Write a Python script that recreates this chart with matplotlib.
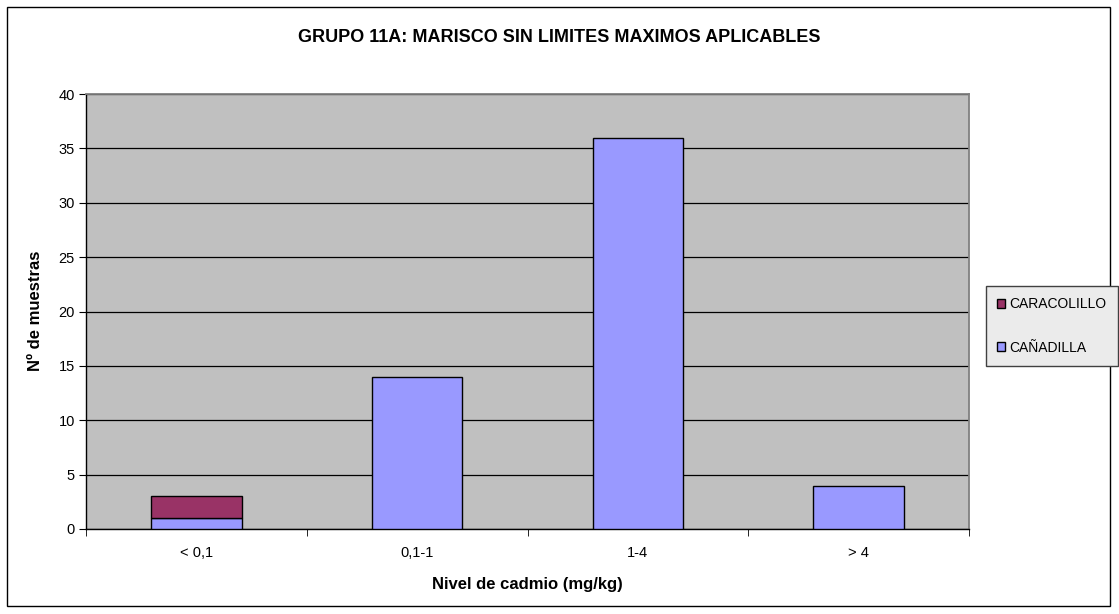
import matplotlib
matplotlib.use("Agg")
import matplotlib.pyplot as plt
from matplotlib.patches import Rectangle
import numpy as np

categories = ["< 0,1", "0,1-1", "1-4", "> 4"]
canadilla = [1, 14, 36, 4]
caracolillo = [2, 0, 0, 0]
yticks = [0, 5, 10, 15, 20, 25, 30, 35, 40]

plt.rcParams['font.family'] = ['Liberation Sans', 'DejaVu Sans']

fig = plt.figure(figsize=(11.19, 6.14), dpi=100)
fig.patches.append(Rectangle((7/1119, 1-606/614), 1103/1119, 599/614, transform=fig.transFigure,
                             fill=False, edgecolor='black', linewidth=1.0))
ax = fig.add_axes([86/1119, 1-529/614, 883/1119, 435/614])
ax.set_facecolor('#C0C0C0')

x = np.arange(len(categories))
w = 0.41
ax.bar(x, canadilla, w, color='#9999FF', edgecolor='black', linewidth=1.0, label='CAÑADILLA', zorder=3)
car_x = [xi for xi, v in zip(x, caracolillo) if v > 0]
car_v = [v for v in caracolillo if v > 0]
car_b = [c for c, v in zip(canadilla, caracolillo) if v > 0]
ax.bar(car_x, car_v, w, bottom=car_b, color='#993366', edgecolor='black', linewidth=1.0,
       label='CARACOLILLO', zorder=3)

ax.set_xlim(-0.5, 3.5)
ax.set_ylim(0, 40)
ax.set_yticks(yticks)
ax.set_yticklabels([str(t) for t in yticks], fontsize=10.5)
ax.yaxis.grid(True, color='black', linewidth=0.9, zorder=1)
ax.set_axisbelow(True)
ax.set_xticks(x)
ax.set_xticklabels(categories, fontsize=10.5)
ax.set_xticks(np.arange(-0.5, 4.0, 1.0), minor=True)
ax.tick_params(axis='x', which='major', length=0, pad=12)
ax.tick_params(axis='x', which='minor', length=5, direction='out', color='black')
ax.tick_params(axis='y', length=5, direction='out', pad=3)
for s in ['top', 'right']:
    ax.spines[s].set_color('#808080')
    ax.spines[s].set_linewidth(1.3)
    ax.spines[s].set_zorder(2.5)
for s in ['left', 'bottom']:
    ax.spines[s].set_color('black')
    ax.spines[s].set_linewidth(1.0)

fig.text(559/1119, 1-37/614, "GRUPO 11A: MARISCO SIN LIMITES MAXIMOS APLICABLES",
         ha='center', va='center', fontsize=13, fontweight='bold')
fig.text(527/1119, 1-585/614, "Nivel de cadmio (mg/kg)", ha='center', va='center',
         fontsize=12, fontweight='bold')
fig.text(35/1119, 1-311/614, "Nº de muestras", ha='center', va='center', rotation=90,
         fontsize=12, fontweight='bold')

handles, labels = ax.get_legend_handles_labels()
leg = fig.legend(handles[::-1], labels[::-1], loc='center left',
                 bbox_to_anchor=(986/1119, 1-326/614), fontsize=10, frameon=True,
                 fancybox=False, edgecolor='#404040', facecolor='#EBEBEB', framealpha=1,
                 handlelength=0.6, handleheight=0.6, handletextpad=0.3, labelspacing=2.1,
                 borderpad=0.8, borderaxespad=0)
leg.get_frame().set_linewidth(1.0)

fig.savefig("out.png", dpi=100)
